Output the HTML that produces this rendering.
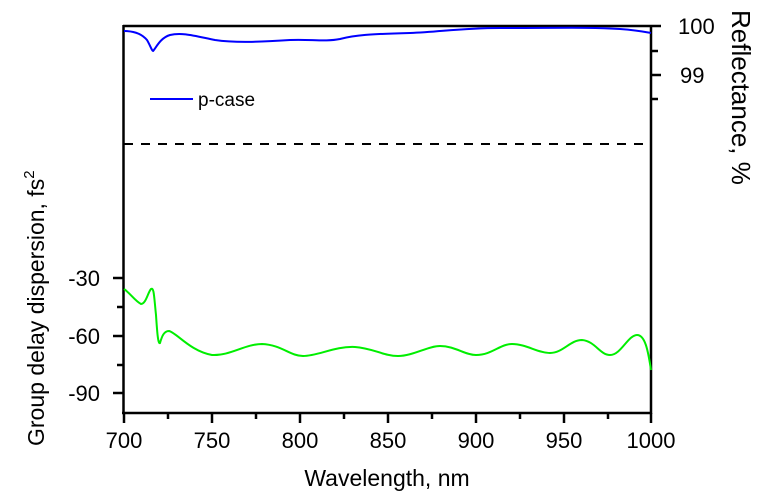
<!DOCTYPE html>
<html><head><meta charset="utf-8"><style>body{margin:0;background:#fff}svg{display:block}</style></head><body>
<svg width="758" height="500" xmlns="http://www.w3.org/2000/svg" font-family="Liberation Sans, sans-serif">
<rect width="758" height="500" fill="#fff"/>
<g stroke="#000" stroke-width="2.5" fill="none">
<line x1="123" y1="26" x2="661" y2="26"/>
<line x1="123.5" y1="25" x2="123.5" y2="414"/>
<line x1="651" y1="25" x2="651" y2="414"/>
<line x1="122" y1="413" x2="652" y2="413"/>
<line x1="651" y1="51" x2="658" y2="51"/>
<line x1="651" y1="75" x2="661" y2="75"/>
<line x1="651" y1="99" x2="658" y2="99"/>
<line x1="113" y1="278" x2="123" y2="278"/>
<line x1="113" y1="336" x2="123" y2="336"/>
<line x1="113" y1="393" x2="123" y2="393"/>
<line x1="117" y1="307" x2="123" y2="307"/>
<line x1="117" y1="365" x2="123" y2="365"/>
<line x1="124" y1="413" x2="124" y2="423"/>
<line x1="212" y1="413" x2="212" y2="423"/>
<line x1="300" y1="413" x2="300" y2="423"/>
<line x1="388" y1="413" x2="388" y2="423"/>
<line x1="476" y1="413" x2="476" y2="423"/>
<line x1="564" y1="413" x2="564" y2="423"/>
<line x1="651" y1="413" x2="651" y2="423"/>
<line x1="168" y1="413" x2="168" y2="419"/>
<line x1="256" y1="413" x2="256" y2="419"/>
<line x1="344" y1="413" x2="344" y2="419"/>
<line x1="432" y1="413" x2="432" y2="419"/>
<line x1="520" y1="413" x2="520" y2="419"/>
<line x1="608" y1="413" x2="608" y2="419"/>
<line x1="124" y1="144" x2="648" y2="144" stroke-width="2" stroke-dasharray="9,8"/>
</g>
<path d="M124,31 C135,31 142,34 147,40 C150,45 152,51 153,51 C156,48 160,38 170,35 C182,32 195,36 215,40 C235,43 260,42 290,40 C310,39 325,42 340,39 C355,35 370,34 410,33 C440,32 460,28 500,28 C560,28 590,27 620,29 C635,30 645,32 651,33" stroke="#0000ff" stroke-width="2" fill="none"/>
<path d="M124,289 C130,293 135,301 141,304 C146,304 148,292 151,289 C154,287 154,296 156,315 C157,330 158,345 160,343 C162,336 164,331 169,331 C177,333 190,351 212,355 C230,356 245,344 262,344 C282,345 290,356 303,356 C318,356 335,346 355,347 C372,348 384,356 398,356 C413,356 428,346 440,346 C455,346 465,355 476,355 C492,355 500,344 512,344 C526,344 538,353 550,353 C563,353 570,340 582,340 C595,341 600,355 610,355 C621,355 628,335 637,335 C645,335 648,350 651,370" stroke="#00ee00" stroke-width="2" fill="none"/>
<line x1="150" y1="99" x2="193" y2="99" stroke="#0000ff" stroke-width="2"/>
<text x="198" y="106" font-size="19">p-case</text>
<g font-size="22" text-anchor="end">
<text x="100" y="286">-30</text><text x="100" y="344">-60</text><text x="100" y="401">-90</text>
</g>
<g font-size="22" text-anchor="middle">
<text x="124" y="448">700</text><text x="212" y="448">750</text><text x="300" y="448">800</text><text x="388" y="448">850</text><text x="476" y="448">900</text><text x="564" y="448">950</text><text x="651" y="448">1000</text>
</g>
<text x="678" y="34" font-size="22">100</text>
<text x="680" y="83" font-size="22">99</text>
<text x="387" y="486" font-size="23" text-anchor="middle">Wavelength, nm</text>
<text transform="translate(732,10) rotate(90)" font-size="26">Reflectance, %</text>
<text transform="translate(44,446) rotate(-90)" font-size="23">Group delay dispersion, fs<tspan font-size="15" dy="-10">2</tspan></text>
</svg>
</body></html>
